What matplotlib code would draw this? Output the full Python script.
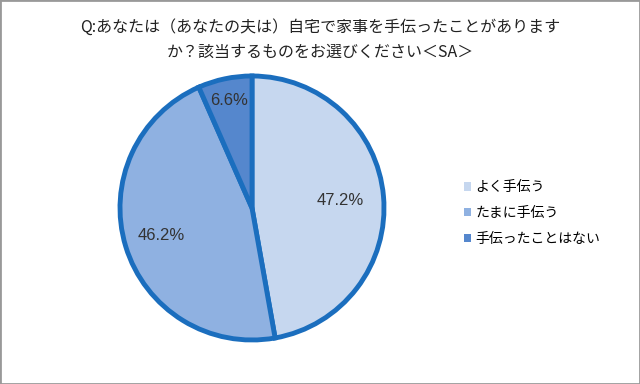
import numpy as np
import matplotlib.pyplot as plt
from matplotlib.patches import Rectangle

plt.rcParams['font.family'] = ['Noto Sans CJK JP', 'DejaVu Sans']

# データ
labels = ['よく手伝う', 'たまに手伝う', '手伝ったことはない']
values = [47.2, 46.2, 6.6]
colors = ['#C6D7EF', '#8FB1E1', '#5587CD']
label_r = [0.67, 0.72, 0.83]

fig = plt.figure(figsize=(6.4, 3.84), dpi=100)
fig.patches.append(Rectangle((0, 0), 1, 1, transform=fig.transFigure,
                             fill=False, edgecolor='#999999', linewidth=2))

fig.text(0.5, 0.93, 'Q:あなたは（あなたの夫は）自宅で家事を手伝ったことがあります',
         ha='center', va='center', fontsize=11.5, color='#222222')
fig.text(0.5, 0.865, 'か？該当するものをお選びください＜SA＞',
         ha='center', va='center', fontsize=11.5, color='#222222')

ax = fig.add_axes([0.1875, 0.1146, 0.4125, 0.6875])
wedges, _ = ax.pie(values, colors=colors, startangle=90, counterclock=False,
                   wedgeprops=dict(edgecolor='#1B6EBE', linewidth=3.5))
ax.set_xlim(-1, 1)
ax.set_ylim(-1, 1)
ax.set_aspect('equal')
for w in wedges:
    w.set_clip_on(False)

# ラベル
for w, v, r in zip(wedges, values, label_r):
    ang = np.deg2rad((w.theta1 + w.theta2) / 2)
    ax.text(r * np.cos(ang), r * np.sin(ang), f'{v:.1f}%',
            ha='center', va='center', fontsize=12, color='#333333',
            family=['Liberation Sans'])

# 凡例
leg = fig.legend(wedges, labels, loc='center left',
                 bbox_to_anchor=(0.705, 0.445), frameon=False, fontsize=10,
                 handlelength=0.55, handleheight=0.55, handletextpad=0.3,
                 labelspacing=0.85)
for h in leg.legend_handles:
    h.set_edgecolor('none')

plt.savefig('out.png', dpi=100)
